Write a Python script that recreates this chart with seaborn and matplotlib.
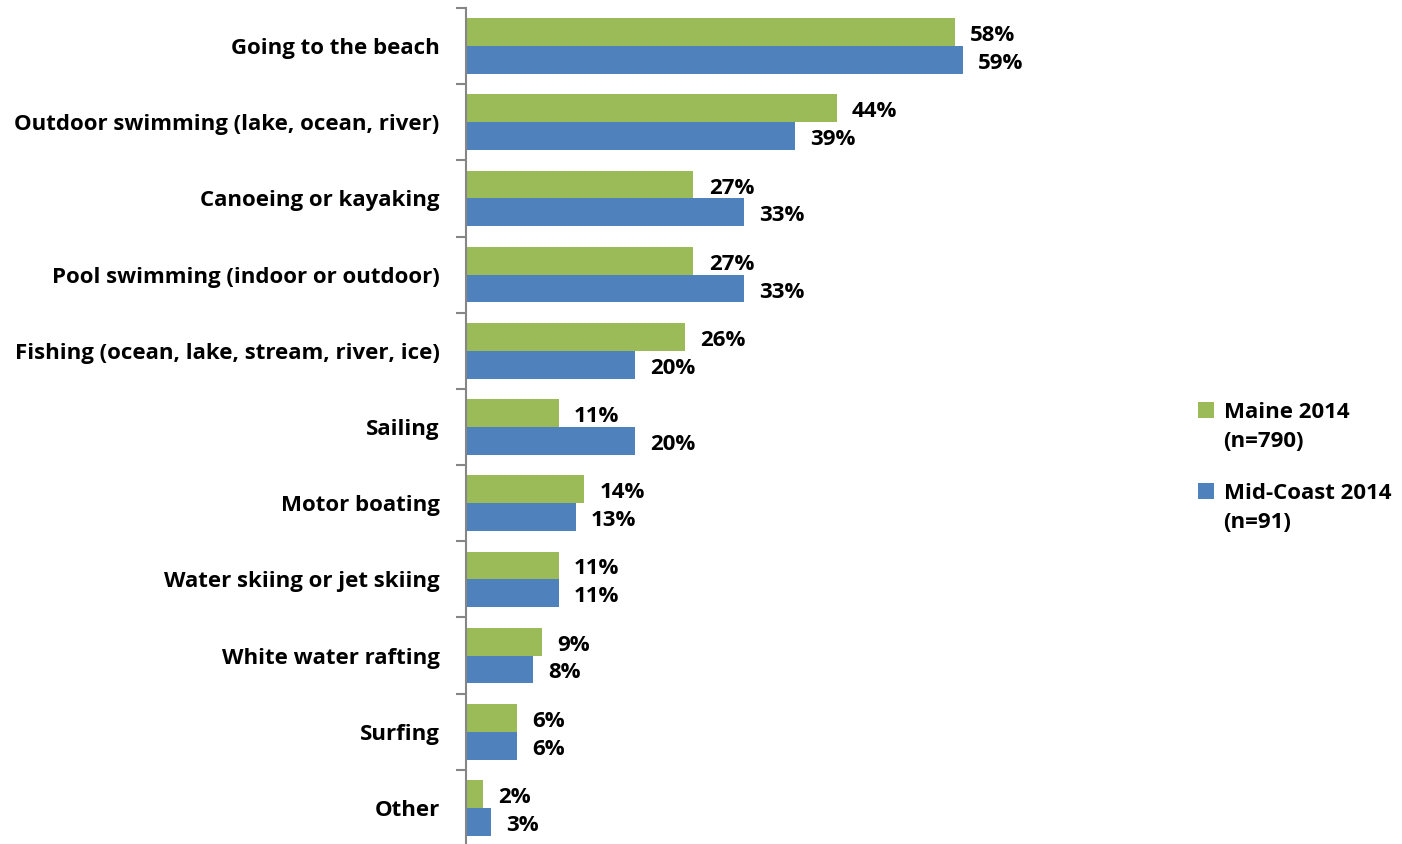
import matplotlib
matplotlib.use("Agg")
import matplotlib.pyplot as plt
from matplotlib.patches import Patch
from matplotlib.ticker import FixedLocator
import seaborn as sns
import pandas as pd
import numpy as np

activities = [
    "Going to the beach",
    "Outdoor swimming (lake, ocean, river)",
    "Canoeing or kayaking",
    "Pool swimming (indoor or outdoor)",
    "Fishing (ocean, lake, stream, river, ice)",
    "Sailing",
    "Motor boating",
    "Water skiing or jet skiing",
    "White water rafting",
    "Surfing",
    "Other",
]
maine_2014 = [58, 44, 27, 27, 26, 11, 14, 11, 9, 6, 2]
midcoast_2014 = [59, 39, 33, 33, 20, 20, 13, 11, 8, 6, 3]
series_names = ["Maine 2014", "Mid-Coast 2014"]
sample_sizes = ["(n=790)", "(n=91)"]
colors = ["#9BBB59", "#4F81BD"]

df = pd.DataFrame({
    "activity": activities * 2,
    "pct": maine_2014 + midcoast_2014,
    "series": [series_names[0]] * len(activities) + [series_names[1]] * len(activities),
})

sns.set_theme(style="white")
plt.rcParams["font.family"] = ["Open Sans", "DejaVu Sans"]
plt.rcParams["font.weight"] = "bold"
plt.rcParams["text.color"] = "black"
plt.rcParams["ytick.labelcolor"] = "black"
FS = 16

fig = plt.figure(figsize=(14.02, 8.44), dpi=100)
ax = fig.add_axes([466 / 1402, -2 / 844, (1140 - 466) / 1402, (846 - 8) / 844])

sns.barplot(
    data=df, x="pct", y="activity", hue="series", order=activities,
    hue_order=series_names, palette=colors, orient="h", width=0.73,
    saturation=1, linewidth=0, ax=ax, legend=False,
)

for container in ax.containers:
    anns = ax.bar_label(container, labels=[f"{v:.0f}%" for v in container.datavalues],
                        padding=11, fontsize=FS, fontweight="bold", color="black")
    for a in anns:
        a.xyann = (11, -2.5)

ax.set_xlim(0, 80)
ax.set_ylim(len(activities) - 0.5, -0.5)
ax.set_xlabel("")
ax.set_ylabel("")
ax.set_xticks([])

# category labels centred, tick marks on the boundaries between categories
ax.tick_params(axis="y", which="major", length=0, pad=19, labelsize=FS, labelcolor="black")
for lab in ax.get_yticklabels():
    lab.set_fontweight("bold")
ax.yaxis.set_minor_locator(FixedLocator(np.arange(-0.5, len(activities), 1.0)))
ax.tick_params(axis="y", which="minor", length=7, width=1.5, color="#868686",
               direction="out", left=True)

for side in ["top", "right", "bottom"]:
    ax.spines[side].set_visible(False)
ax.spines["left"].set_color("#868686")
ax.spines["left"].set_linewidth(1.5)

# one legend block per series: name with swatch, sample size underneath
blank = Patch(facecolor="none", edgecolor="none")
for color, name, n, yc in zip(colors, series_names, sample_sizes, [427, 508]):
    fig.legend(
        [Patch(facecolor=color, edgecolor="none"), blank], [name, n],
        loc="center left", bbox_to_anchor=(1198 / 1402, 1 - yc / 844),
        frameon=False, prop={"weight": "bold", "size": FS},
        handlelength=0.7, handleheight=0.7, handletextpad=0.45,
        labelspacing=0.4, borderpad=0, borderaxespad=0, labelcolor="black",
    )

fig.savefig("out.png", dpi=100)
